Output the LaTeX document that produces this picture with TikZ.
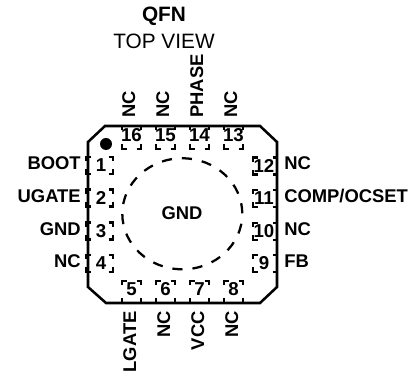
\documentclass[tikz,border=0pt]{standalone}
\usepackage{fontspec}
\setmainfont{Liberation Sans}
\tikzset{
 pk/.style={line width=1.9pt,line join=miter},
 pad/.style={line width=1.75pt},
 pin/.style={font=\fontsize{13.8pt}{15pt}\selectfont\bfseries,inner sep=0pt},
 num/.style={font=\fontsize{14pt}{15pt}\selectfont\bfseries,inner sep=0pt},
 ttl/.style={inner sep=0pt,anchor=base},
}
\newcommand{\pxpad}[4]{%
 \draw[pad] (#1+4.5,#2) -- (#1,#2) -- (#1,#2+4.5)
            (#3-4.5,#2) -- (#3,#2) -- (#3,#2+4.5)
            (#1+4.5,#4) -- (#1,#4) -- (#1,#4-4.5)
            (#3-4.5,#4) -- (#3,#4) -- (#3,#4-4.5);}
\begin{document}
\begin{tikzpicture}[x=0.75pt,y=-0.75pt]
\useasboundingbox (0,0) rectangle (418,377);
\node[ttl,font=\fontsize{15.6pt}{18pt}\selectfont\bfseries] (title) at (164,21.7) {QFN};
\node[ttl,font=\fontsize{15.6pt}{18pt}\selectfont] (view) at (164,48.3) {TOP VIEW};
\draw[line width=1.7pt,dash pattern=on 7.6pt off 7.5pt,dash phase=7.6pt] (182.3,213.8) ellipse (60 and 55.5);
\foreach \x/\n/\l in {131.5/16/NC,165.5/15/NC,199.5/14/PHASE,233.5/13/NC}{
 \pxpad{\x-9.5}{126}{\x+9.5}{149}
 \node[num] at (\x,135.5) {\n};
 \node[pin,rotate=90,anchor=base west] at (\x+3.5,118) {\l};
}
\foreach \x/\n/\l in {131.5/5/LGATE,165.5/6/NC,199.5/7/VCC,233.5/8/NC}{
 \pxpad{\x-9.5}{281}{\x+9.5}{303}
 \node[num] at (\x,289.5) {\n};
 \node[pin,rotate=90,anchor=base east] at (\x+4.5,311) {\l};
}
\foreach \y/\n/\b/\l in {165.5/1/169.5/BOOT,198/2/203/UGATE,231/3/236/GND,263.5/4/268/NC}{
 \pxpad{86}{\y-8.5}{113}{\y+8.5}
 \node[num] at (101,\y) {\n};
 \node[pin,anchor=base east] at (81,\b) {\l};
}
\foreach \y/\n/\b/\l in {166/12/170/NC,198.5/11/203/{COMP/OCSET},231.5/10/236/NC,263.5/9/268/FB}{
 \pxpad{253}{\y-8.5}{277}{\y+8.5}
 \node[num] at (264,\y) {\n};
 \node[pin,anchor=base west] at (284,\b) {\l};
}
\draw[pk] (105,126) -- (260,126) -- (277,142) -- (277,287) -- (260,303) -- (106,303) -- (88,287) -- (88,142) -- cycle;
\fill (106,144) circle (6);
\node[pin,anchor=base] (gnd) at (182,220) {GND};
\end{tikzpicture}
\end{document}
